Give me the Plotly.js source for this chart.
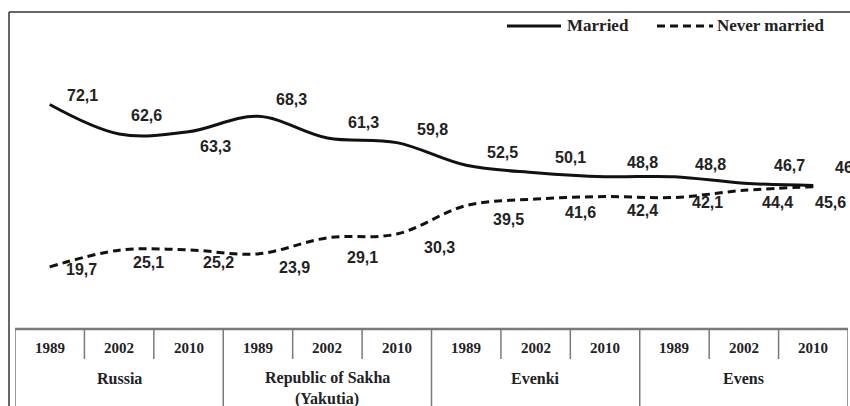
<!DOCTYPE html>
<html>
<head>
<meta charset="utf-8">
<script src="https://cdn.plot.ly/plotly-3.0.1.min.js"></script>
<style>html,body{margin:0;padding:0;background:#fff;}#chart{width:850px;height:406px;}</style>
</head>
<body>
<div id="chart"></div>
<script>
// ---- data ----
var years = ["1989", "2002", "2010", "1989", "2002", "2010", "1989", "2002", "2010", "1989", "2002", "2010"];
var groups = ["Russia", "Republic of Sakha", "Evenki", "Evens"];
var groupSub = ["", "(Yakutia)", "", ""];
var marriedName = "Married";
var neverName = "Never married";
var married = [72.1, 62.6, 63.3, 68.3, 61.3, 59.8, 52.5, 50.1, 48.8, 48.8, 46.7, 46.0];
var marriedText = ["72,1", "62,6", "63,3", "68,3", "61,3", "59,8", "52,5", "50,1", "48,8", "48,8", "46,7", "46,0"];
var never = [19.7, 25.1, 25.2, 23.9, 29.1, 30.3, 39.5, 41.6, 42.4, 42.1, 44.4, 45.6];
var neverText = ["19,7", "25,1", "25,2", "23,9", "29,1", "30,3", "39,5", "41,6", "42,4", "42,1", "44,4", "45,6"];

// label offsets (pixels; styling only)
var mDx = [33, 27, 27, 34, 36, 36, 36, 35, 37, 36, 46, 37];
var mDy = [9, 18, -15, 17, 15, 13, 13, 15, 14, 12, 18, 18];
var nDx = [32, 29, 30, 37, 35, 43, 42, 45, 37, 33, 34, 17];
var nDy = [-3, -12, -13, -14, -20, -13, -14, -13, -14, -5, -12, -16];

// ---- layout geometry ----
var W = 850, H = 406, ML = 15, MR = 2, MT = 18, MB = 78;
var PW = W - ML - MR, PH = H - MT - MB;
function px(x) { return (x - ML) / PW; }
function py(y) { return (H - MB - y) / PH; }

var idx = years.map(function (_, i) { return i; });
var serif = "Liberation Serif, Times New Roman, serif";
var sans = "Liberation Sans, Arial, sans-serif";

var traces = [
  { x: idx, y: married, type: "scatter", mode: "lines", name: marriedName,
    line: { color: "#111", width: 3, shape: "spline", smoothing: 1 }, hoverinfo: "skip" },
  { x: idx, y: never, type: "scatter", mode: "lines", name: neverName,
    line: { color: "#111", width: 3, shape: "spline", smoothing: 1, dash: "8px,5px" }, hoverinfo: "skip" }
];

var ann = [];
idx.forEach(function (i) {
  ann.push({ x: i, y: married[i], xref: "x", yref: "y", text: marriedText[i], showarrow: false,
    xshift: mDx[i], yshift: mDy[i], font: { family: sans, size: 16, color: "#222", weight: "bold" } });
  ann.push({ x: i, y: never[i], xref: "x", yref: "y", text: neverText[i], showarrow: false,
    xshift: nDx[i], yshift: nDy[i], font: { family: sans, size: 16, color: "#222", weight: "bold" } });
  ann.push({ x: i, y: py(348), xref: "x", yref: "paper", text: years[i], showarrow: false,
    yanchor: "middle", font: { family: serif, size: 15, color: "#222", weight: "bold" } });
});
groups.forEach(function (g, k) {
  ann.push({ x: k * 3 + 1, y: py(378), xref: "x", yref: "paper", text: g, showarrow: false,
    yanchor: "middle", font: { family: serif, size: 16, color: "#222", weight: "bold" } });
  if (groupSub[k]) {
    ann.push({ x: k * 3 + 1, y: py(399), xref: "x", yref: "paper", text: groupSub[k], showarrow: false,
      yanchor: "middle", font: { family: serif, size: 16, color: "#222", weight: "bold" } });
  }
});
// legend text
ann.push({ x: px(565), y: py(26), xref: "paper", yref: "paper", text: marriedName, showarrow: false,
  xanchor: "left", yanchor: "middle", font: { family: serif, size: 17, color: "#222", weight: "bold" } });
ann.push({ x: px(715), y: py(26), xref: "paper", yref: "paper", text: neverName, showarrow: false,
  xanchor: "left", yanchor: "middle", font: { family: serif, size: 17, color: "#222", weight: "bold" } });

var shapes = [];
var gray = "#7a7a7a";
// outer frame
shapes.push({ type: "line", xref: "paper", yref: "paper", x0: px(9), x1: px(9), y0: py(12), y1: py(406), line: { color: "#333", width: 1.5 } });
shapes.push({ type: "line", xref: "paper", yref: "paper", x0: px(9), x1: px(850), y0: py(12), y1: py(12), line: { color: "#333", width: 1.5 } });
// table
shapes.push({ type: "line", xref: "x", yref: "paper", x0: -0.5, x1: 11.5, y0: py(329), y1: py(329), line: { color: gray, width: 2.5 } });
[-0.5, 2.5, 5.5, 8.5, 11.5].forEach(function (b) {
  shapes.push({ type: "line", xref: "x", yref: "paper", x0: b, x1: b, y0: py(329), y1: py(406), line: { color: gray, width: 1.5 } });
});
[0.5, 1.5, 3.5, 4.5, 6.5, 7.5, 9.5, 10.5].forEach(function (b) {
  shapes.push({ type: "line", xref: "x", yref: "paper", x0: b, x1: b, y0: py(329), y1: py(359), line: { color: gray, width: 1.5 } });
});
// legend samples
shapes.push({ type: "line", xref: "paper", yref: "paper", x0: px(507), x1: px(561), y0: py(26), y1: py(26), line: { color: "#111", width: 3 } });
shapes.push({ type: "line", xref: "paper", yref: "paper", x0: px(657), x1: px(713), y0: py(26), y1: py(26), line: { color: "#111", width: 3, dash: "8px,5px" } });

var layout = {
  width: W, height: H,
  margin: { l: ML, r: MR, t: MT, b: MB, pad: 0 },
  paper_bgcolor: "#fff", plot_bgcolor: "#fff",
  showlegend: false,
  xaxis: { range: [-0.5, 11.5], showgrid: false, zeroline: false, showline: false, showticklabels: false, ticks: "", fixedrange: true },
  yaxis: { range: [0, 100], visible: false, showgrid: false, zeroline: false, fixedrange: true },
  annotations: ann,
  shapes: shapes
};

Plotly.newPlot("chart", traces, layout, { staticPlot: true, displayModeBar: false });
</script>
</body>
</html>
